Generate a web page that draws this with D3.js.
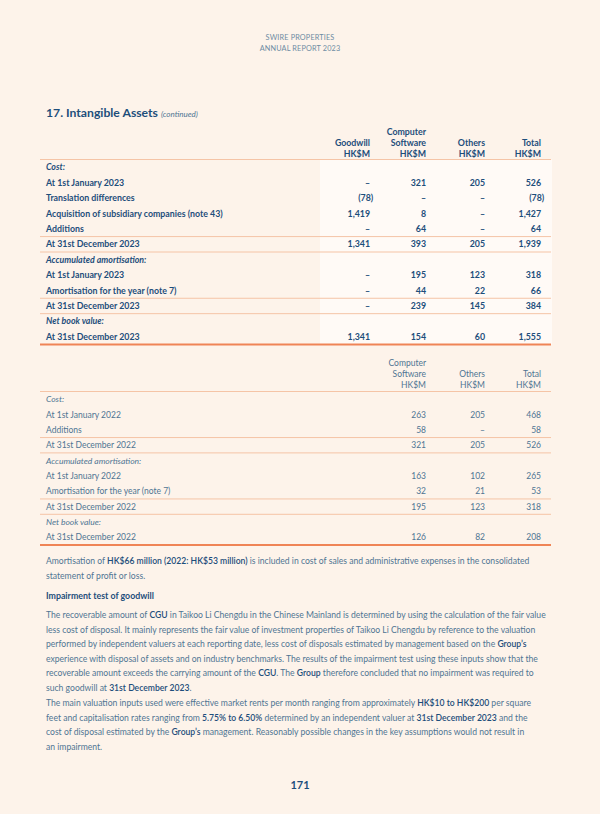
<!DOCTYPE html>
<html><head><meta charset="utf-8">
<script src="https://cdn.jsdelivr.net/npm/d3@7"></script>
<style>
html,body{margin:0;padding:0;background:#fdf3ea;}
svg{display:block;font-family:Lato,"Open Sans",sans-serif;}
</style></head>
<body>
<svg id="page" width="600" height="814"></svg>
<script>
// ---------- DATA ----------
const headerLines = ["SWIRE PROPERTIES", "ANNUAL REPORT 2023"];
const sectionTitle = "17. Intangible Assets";
const sectionNote = "(continued)";

const columns2023 = [["", "Goodwill", "HK$M"], ["Computer", "Software", "HK$M"], ["", "Others", "HK$M"], ["", "Total", "HK$M"]];
const rowLabels2023 = ["Cost:", "At 1st January 2023", "Translation differences", "Acquisition of subsidiary companies (note 43)", "Additions", "At 31st December 2023", "Accumulated amortisation:", "At 1st January 2023", "Amortisation for the year (note 7)", "At 31st December 2023", "Net book value:", "At 31st December 2023"];
const rowKinds2023 = ["head", "item", "item", "item", "item", "total", "head", "item", "item", "total", "head", "final"];
const goodwill2023 = [null, 0, -78, 1419, 0, 1341, null, 0, 0, 0, null, 1341];
const software2023 = [null, 321, 0, 8, 64, 393, null, 195, 44, 239, null, 154];
const others2023 = [null, 205, 0, 0, 0, 205, null, 123, 22, 145, null, 60];
const total2023 = [null, 526, -78, 1427, 64, 1939, null, 318, 66, 384, null, 1555];

const columns2022 = [["Computer", "Software", "HK$M"], ["", "Others", "HK$M"], ["", "Total", "HK$M"]];
const rowLabels2022 = ["Cost:", "At 1st January 2022", "Additions", "At 31st December 2022", "Accumulated amortisation:", "At 1st January 2022", "Amortisation for the year (note 7)", "At 31st December 2022", "Net book value:", "At 31st December 2022"];
const rowKinds2022 = ["head", "item", "item", "total", "head", "item", "item", "total", "head", "final"];
const software2022 = [null, 263, 58, 321, null, 163, 32, 195, null, 126];
const others2022 = [null, 205, 0, 205, null, 102, 21, 123, null, 82];
const total2022 = [null, 468, 58, 526, null, 265, 53, 318, null, 208];

const para1 = [
  [["Amortisation of "], ["HK$66 million (2022: HK$53 million)", 1], [" is included in cost of sales and administrative expenses in the consolidated"]],
  [["statement of profit or loss."]]
];
const subHeading = "Impairment test of goodwill";
const para2 = [
  [["The recoverable amount of "], ["CGU", 1], [" in Taikoo Li Chengdu in the Chinese Mainland is determined by using the calculation of the fair value"]],
  [["less cost of disposal. It mainly represents the fair value of investment properties of Taikoo Li Chengdu by reference to the valuation"]],
  [["performed by independent valuers at each reporting date, less cost of disposals estimated by management based on the "], ["Group’s", 1]],
  [["experience with disposal of assets and on industry benchmarks. The results of the impairment test using these inputs show that the"]],
  [["recoverable amount exceeds the carrying amount of the "], ["CGU", 1], [". The "], ["Group", 1], [" therefore concluded that no impairment was required to"]],
  [["such goodwill at "], ["31st December 2023", 1], ["."]]
];
const para3 = [
  [["The main valuation inputs used were effective market rents per month ranging from approximately "], ["HK$10 to HK$200", 1], [" per square"]],
  [["feet and capitalisation rates ranging from "], ["5.75% to 6.50%", 1], [" determined by an independent valuer at "], ["31st December 2023", 1], [" and the"]],
  [["cost of disposal estimated by the "], ["Group’s", 1], [" management. Reasonably possible changes in the key assumptions would not result in"]],
  [["an impairment."]]
];
const pageNumber = "171";

// ---------- STYLE ----------
const BG = "#fdf3ea", PANEL = "#fffaf6", DARK = "#1d4e7b", MID = "#4f7593", LIGHT = "#6d8ca3";
const THIN = "#f5c4a6", THICK = "#ef8456";
const L = 46, R = 551;

const svg = d3.select("#page");
svg.append("rect").attr("width", 600).attr("height", 814).attr("fill", BG);

// header
svg.selectAll("text.hdr").data(headerLines).join("text")
  .attr("x", 300).attr("y", (d, i) => 40 + i * 10.5)
  .attr("text-anchor", "middle").attr("font-size", 7.3).attr("fill", LIGHT)
  .attr("letter-spacing", 0.15).text(d => d);

const title = svg.append("text").attr("x", L).attr("y", 117);
title.append("tspan").attr("font-size", 12.2).attr("font-weight", 700).attr("fill", DARK).text(sectionTitle);
title.append("tspan").attr("dx", 3).attr("font-size", 8).attr("font-style", "italic").attr("fill", MID).text(sectionNote);

const fmt = d3.format(",");
function numText(v) { return v === 0 ? "–" : v < 0 ? "(" + fmt(-v) + ")" : fmt(v); }

function drawTable(cfg) {
  const g = svg.append("g");
  const n = cfg.labels.length;
  const y = d3.scaleBand().domain(d3.range(n)).range(cfg.yRange).paddingInner(0);
  const x = d3.scaleOrdinal().domain(d3.range(cfg.cols.length)).range(cfg.colX);
  const bold = cfg.bold;
  const txtColor = bold ? DARK : MID;
  const fw = bold ? 700 : 400;
  const fs = cfg.fs;

  if (cfg.panel) {
    g.append("rect").attr("x", cfg.panel[0]).attr("width", cfg.panel[1] - cfg.panel[0])
      .attr("y", cfg.yRange[0]).attr("height", cfg.yRange[1] - cfg.yRange[0]).attr("fill", PANEL);
  }
  // column headers
  cfg.cols.forEach((lines, c) => {
    lines.forEach((t, k) => {
      if (!t) return;
      g.append("text").attr("x", x(c)).attr("y", cfg.headY[k]).attr("text-anchor", "end")
        .attr("font-size", fs).attr("font-weight", fw).attr("fill", txtColor).text(t);
    });
  });
  // row labels
  g.selectAll("text.lbl").data(cfg.labels).join("text").attr("class", "lbl")
    .attr("x", L).attr("y", (d, i) => y(i) + y.bandwidth() / 2).attr("dy", "0.35em")
    .attr("font-size", fs).attr("font-weight", fw)
    .attr("font-style", (d, i) => cfg.kinds[i] === "head" ? "italic" : null)
    .attr("fill", txtColor).text(d => d);
  // values
  cfg.values.forEach((arr, c) => {
    g.selectAll("text.v" + c).data(arr.map((v, i) => ({ v, i })).filter(o => o.v !== null))
      .join("text").attr("class", "v" + c)
      .attr("x", o => x(c) + (o.v < 0 ? 3.2 : 0)).attr("y", o => y(o.i) + y.bandwidth() / 2)
      .attr("dy", "0.35em").attr("text-anchor", "end").attr("font-size", fs)
      .attr("font-weight", fw).attr("fill", txtColor).text(o => numText(o.v));
  });
  // rules
  const rules = [cfg.yRange[0]];
  cfg.kinds.forEach((k, i) => { if (k === "total") { rules.push(y(i)); rules.push(y(i) + y.bandwidth()); } });
  g.selectAll("line.thin").data(rules).join("line").attr("x1", L - 6).attr("x2", R).attr("y1", d => d).attr("y2", d => d)
    .attr("stroke", THIN).attr("stroke-width", 1);
  g.append("line").attr("x1", L - 6).attr("x2", R).attr("y1", cfg.yRange[1]).attr("y2", cfg.yRange[1])
    .attr("stroke", THICK).attr("stroke-width", 2);
}

drawTable({
  labels: rowLabels2023, kinds: rowKinds2023, cols: columns2023,
  values: [goodwill2023, software2023, others2023, total2023],
  colX: [370, 426, 485, 541], yRange: [159.5, 344.5], headY: [135, 146, 157],
  bold: true, panel: [320, 552], fs: 8.8
});
drawTable({
  labels: rowLabels2022, kinds: rowKinds2022, cols: columns2022,
  values: [software2022, others2022, total2022],
  colX: [426, 485, 541], yRange: [391.5, 545], headY: [366, 377, 388],
  bold: false, panel: null, fs: 8.5
});

function drawPara(lines, y0, lh) {
  lines.forEach((segs, i) => {
    const t = svg.append("text").attr("x", L).attr("y", y0 + i * lh).attr("font-size", 8.6).attr("fill", MID);
    segs.forEach(s => {
      t.append("tspan").attr("fill", s[1] ? DARK : MID).attr("font-weight", s[1] ? 600 : 400).text(s[0]);
    });
  });
}
drawPara(para1, 564, 14.5);
svg.append("text").attr("x", L).attr("y", 599).attr("font-size", 8.8).attr("font-weight", 700).attr("fill", DARK).text(subHeading);
drawPara(para2, 618, 14.6);
drawPara(para3, 706, 14.6);

svg.append("text").attr("x", 300).attr("y", 789).attr("text-anchor", "middle").attr("font-size", 11)
  .attr("font-weight", 700).attr("fill", DARK).text(pageNumber);
</script>
</body></html>
